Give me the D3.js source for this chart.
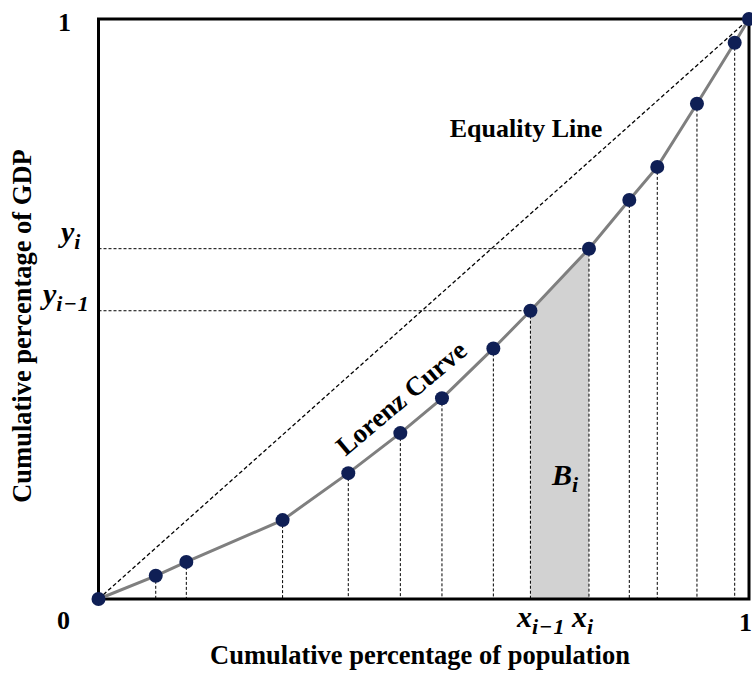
<!DOCTYPE html>
<html>
<head>
<meta charset="utf-8">
<script src="https://cdn.jsdelivr.net/npm/d3@7"></script>
<style>
  html, body { margin: 0; padding: 0; background: #fff; }
  svg { display: block; }
  text { font-family: "Liberation Serif", "Times New Roman", serif; font-weight: bold; fill: #000; }
  .math { font-style: italic; }
</style>
</head>
<body>
<svg id="chart" width="752" height="675"></svg>
<script>
// Cumulative shares (Lorenz curve points)
const popShare = [0, 0.088, 0.135, 0.283, 0.384, 0.464, 0.528, 0.607, 0.664, 0.754, 0.816, 0.859, 0.920, 0.978, 1];
const gdpShare = [0, 0.040, 0.064, 0.136, 0.217, 0.286, 0.346, 0.432, 0.497, 0.604, 0.688, 0.745, 0.854, 0.959, 1];
const highlightIndex = 9; // point i; i-1 is the previous one
const xTickLabels = ["0", "1"];
const yTickLabels = ["0", "1"];
const xTitle = "Cumulative percentage of population";
const yTitle = "Cumulative percentage of GDP";

const svg = d3.select("#chart");
const x = d3.scaleLinear().domain([0, 1]).range([98.5, 749]);
const y = d3.scaleLinear().domain([0, 1]).range([599, 19]);

const pts = popShare.map((v, k) => ({ x: v, y: gdpShare[k] }));
const i = highlightIndex;

// Shaded trapezoid B_i
svg.append("path")
  .attr("d", d3.area().x(d => x(d.x)).y0(y(0)).y1(d => y(d.y))([pts[i - 1], pts[i]]))
  .attr("fill", "#d2d2d2");

// Vertical dashed drop lines
svg.append("g").selectAll("line")
  .data(pts.slice(1, -1))
  .join("line")
  .attr("x1", d => x(d.x)).attr("x2", d => x(d.x))
  .attr("y1", d => y(d.y)).attr("y2", y(0))
  .attr("stroke", "#000").attr("stroke-width", 1)
  .attr("stroke-dasharray", "3,2");

// Horizontal dashed lines at y_i and y_{i-1}
svg.append("g").selectAll("line")
  .data([pts[i - 1], pts[i]])
  .join("line")
  .attr("x1", x(0)).attr("x2", d => x(d.x))
  .attr("y1", d => y(d.y)).attr("y2", d => y(d.y))
  .attr("stroke", "#000").attr("stroke-width", 1)
  .attr("stroke-dasharray", "3,2");

// Equality line
svg.append("line")
  .attr("x1", x(0)).attr("y1", y(0)).attr("x2", x(1)).attr("y2", y(1))
  .attr("stroke", "#000").attr("stroke-width", 1.3)
  .attr("stroke-dasharray", "4,2.5");

// Frame
svg.append("rect")
  .attr("x", x(0)).attr("y", y(1))
  .attr("width", x(1) - x(0)).attr("height", y(0) - y(1))
  .attr("fill", "none").attr("stroke", "#000").attr("stroke-width", 3);

// Lorenz curve
svg.append("path")
  .attr("d", d3.line().x(d => x(d.x)).y(d => y(d.y))(pts))
  .attr("fill", "none").attr("stroke", "#7f7f7f").attr("stroke-width", 3);

svg.append("g").selectAll("circle")
  .data(pts)
  .join("circle")
  .attr("cx", d => x(d.x)).attr("cy", d => y(d.y))
  .attr("r", 7)
  .attr("fill", "#0f1f55");

// Tick labels
svg.append("text").attr("x", 57).attr("y", 629).attr("font-size", 26).text(xTickLabels[0]);
svg.append("text").attr("x", 739).attr("y", 631).attr("font-size", 26).text(xTickLabels[1]);
svg.append("text").attr("x", 58).attr("y", 31).attr("font-size", 26).text(yTickLabels[1]);

// Axis titles
svg.append("text").attr("x", 420).attr("y", 664).attr("text-anchor", "middle")
  .attr("font-size", 26.5).text(xTitle);
svg.append("text")
  .attr("transform", "translate(31,326) rotate(-90)")
  .attr("text-anchor", "middle").attr("font-size", 26.5).text(yTitle);

// Math labels
function mathLabel(px, py, main, sub) {
  const t = svg.append("text").attr("class", "math").attr("x", px).attr("y", py)
    .attr("font-size", 30);
  t.append("tspan").text(main);
  t.append("tspan").attr("font-size", 22).attr("dy", 7).attr("letter-spacing", 1).text(sub);
  return t;
}
mathLabel(61, 242, "y", "i");
mathLabel(43, 304, "y", "i\u22121");
mathLabel(517, 627, "x", "i\u22121");
mathLabel(572, 627, "x", "i");
mathLabel(552, 485, "B", "i");

// Annotations
svg.append("text").attr("x", 526).attr("y", 137).attr("text-anchor", "middle")
  .attr("font-size", 26).text("Equality Line");
svg.append("text")
  .attr("transform", "translate(407,405) rotate(-40)")
  .attr("text-anchor", "middle").attr("font-size", 27).text("Lorenz Curve");
</script>
</body>
</html>
